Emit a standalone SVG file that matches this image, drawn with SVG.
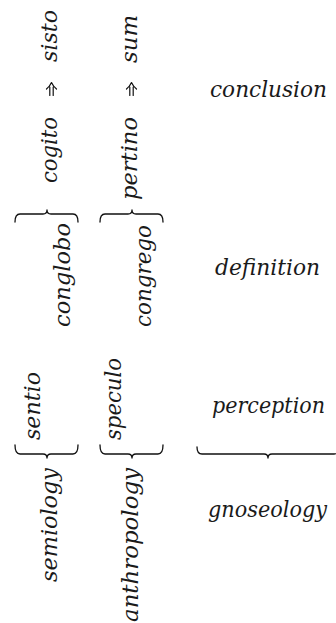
<svg xmlns="http://www.w3.org/2000/svg" width="336" height="623" viewBox="0 0 336 623">
<style>
.t text{font-family:'DejaVu Serif',serif;font-style:italic;font-size:22px;fill:#1a1a1a}
.br{fill:none;stroke:#111;stroke-width:1.3;stroke-linecap:round;stroke-linejoin:round}
.ar{fill:none;stroke:#111;stroke-width:1.2;stroke-linecap:round;stroke-linejoin:round}
</style>
<rect width="336" height="623" fill="#fff"/>
<g id="connectors">
<path class="br" d="M15,222 Q15,214 20,214 H43 Q47,214 47,210 Q47,214 51,214 H73 Q78,214 78,222"/>
<path class="br" d="M100,222 Q100,214 105,214 H128 Q132,214 132,210 Q132,214 136,214 H158 Q163,214 163,222"/>
<path class="br" d="M15,445 Q15,454 20,454 H43 Q47,454 47,458 Q47,454 51,454 H73 Q78,454 78,445"/>
<path class="br" d="M100,445 Q100,454 105,454 H128 Q132,454 132,458 Q132,454 136,454 H158 Q163,454 163,445"/>
<path class="br" d="M197,447 Q197,454 202,454 H264 Q268,454 268,458 Q268,454 272,454 H334 Q339,454 339,447"/>
<path class="ar" d="M46.5,89 Q50,86 51.5,82.5 Q53,86 56.5,89 M49.8,87 V95.5 M53.2,87 V95.5"/>
<path class="ar" d="M126.5,89 Q130,86 131.5,82.5 Q133,86 136.5,89 M129.8,87 V95.5 M133.2,87 V95.5"/>
</g>
<g class="t" font-family="'DejaVu Serif',serif">
<g id="sisto"><text transform="translate(57,62) rotate(-90)" textLength="52" lengthAdjust="spacingAndGlyphs">sisto</text></g>
<g id="cogito"><text transform="translate(57,183) rotate(-90)" textLength="66" lengthAdjust="spacingAndGlyphs">cogito</text></g>
<g id="sum"><text transform="translate(137,63) rotate(-90)" textLength="48" lengthAdjust="spacingAndGlyphs">sum</text></g>
<g id="pertino"><text transform="translate(137,200) rotate(-90)" textLength="83" lengthAdjust="spacingAndGlyphs">pertino</text></g>
<g id="conglobo"><text transform="translate(70,327) rotate(-90)" textLength="104" lengthAdjust="spacingAndGlyphs">conglobo</text></g>
<g id="congrego"><text transform="translate(151,327) rotate(-90)" textLength="102" lengthAdjust="spacingAndGlyphs">congrego</text></g>
<g id="sentio"><text transform="translate(40,440) rotate(-90)" textLength="68" lengthAdjust="spacingAndGlyphs">sentio</text></g>
<g id="speculo"><text transform="translate(121,440) rotate(-90)" textLength="82" lengthAdjust="spacingAndGlyphs">speculo</text></g>
<g id="semiology"><text transform="translate(57,582) rotate(-90)" textLength="114" lengthAdjust="spacingAndGlyphs">semiology</text></g>
<g id="anthropology"><text transform="translate(138,622) rotate(-90)" textLength="154" lengthAdjust="spacingAndGlyphs">anthropology</text></g>
<g id="conclusion"><text x="210" y="97" textLength="117" lengthAdjust="spacingAndGlyphs">conclusion</text></g>
<g id="definition"><text x="215" y="275" textLength="105" lengthAdjust="spacingAndGlyphs">definition</text></g>
<g id="perception"><text x="212" y="413" textLength="113" lengthAdjust="spacingAndGlyphs">perception</text></g>
<g id="gnoseology"><text x="208" y="517" textLength="119" lengthAdjust="spacingAndGlyphs">gnoseology</text></g>
</g>
</svg>
